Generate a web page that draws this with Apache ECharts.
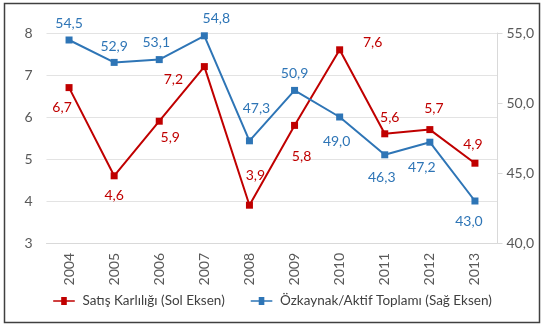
<!DOCTYPE html>
<html>
<head>
<meta charset="utf-8">
<script src="https://cdn.jsdelivr.net/npm/echarts@6/dist/echarts.min.js"></script>
<style>
html,body{margin:0;padding:0;background:#fff;}
#c{width:545px;height:327px;}
</style>
</head>
<body>
<div id="c"></div>
<script>
const years = ['2004','2005','2006','2007','2008','2009','2010','2011','2012','2013'];
const satisKarliligi = [6.7, 4.6, 5.9, 7.2, 3.9, 5.8, 7.6, 5.6, 5.7, 4.9];
const ozkaynakAktif = [54.5, 52.9, 53.1, 54.8, 47.3, 50.9, 49.0, 46.3, 47.2, 43.0];
const leftTicks = [3, 4, 5, 6, 7, 8];
const rightTicks = [40, 45, 50, 55];

const redName = 'Satış Karlılığı (Sol Eksen)';
const blueName = 'Özkaynak/Aktif Toplamı (Sağ Eksen)';
const RED = '#C00000', BLUE = '#2E75B6';
const FONT = 'Lato';
const FS = 14;

// label offsets (presentation only)
const redOff = [[-7,20],[0,20],[11,16],[-31,13],[6,-30],[7,31],[33,-7],[5,-16],[4,-21],[-2,-19]];
const blueOff = [[0,-17],[0,-16],[-3,-17],[12,-17],[7,-32],[0,-17],[-3,24],[-3,23],[-8,25],[-6,20]];

const fmt = v => v.toFixed(1).replace('.', ',');

function build(values, offs) {
  return values.map((v, i) => ({
    value: v,
    label: { offset: offs[i] }
  }));
}

const legendIcon = 'path://M0,4 L10,4 L10,0 L17,0 L17,4 L27,4 L27,6 L17,6 L17,10 L10,10 L10,6 L0,6 Z';

const chart = echarts.init(document.getElementById('c'), null, {renderer: 'canvas'});
chart.setOption({
  animation: false,
  backgroundColor: '#fff',
  textStyle: { fontFamily: FONT },
  graphic: [{
    type: 'rect',
    shape: { x: 4.5, y: 3.5, width: 535, height: 319 },
    style: { fill: 'none', stroke: '#404040', lineWidth: 1.5 },
    z: 100
  }],
  grid: { left: 46.5, right: 47.5, top: 33, bottom: 84, containLabel: false },
  legend: {
    bottom: 14,
    left: 'center',
    itemWidth: 27,
    itemHeight: 8,
    itemGap: 26,
    textStyle: { fontFamily: FONT, fontSize: 13.5, color: '#404040' },
    data: [
      { name: redName, icon: legendIcon },
      { name: blueName, icon: legendIcon }
    ]
  },
  xAxis: {
    type: 'category',
    data: years,
    boundaryGap: true,
    axisLine: { show: true, lineStyle: { color: '#D9D9D9', width: 1 } },
    axisTick: { show: false },
    axisLabel: { rotate: 90, margin: 10, fontFamily: FONT, fontSize: FS, color: '#595959' }
  },
  yAxis: [{
    type: 'value',
    min: leftTicks[0], max: leftTicks[leftTicks.length - 1], interval: 1,
    position: 'left',
    axisLine: { show: false },
    axisTick: { show: false },
    splitLine: { show: true, lineStyle: { color: '#E3E3E3', width: 1 } },
    axisLabel: { margin: 14, fontFamily: FONT, fontSize: FS, color: '#595959' }
  }, {
    type: 'value',
    min: rightTicks[0], max: rightTicks[rightTicks.length - 1], interval: 5,
    position: 'right',
    axisLine: { show: true, lineStyle: { color: '#D9D9D9', width: 1 } },
    axisTick: { show: true, length: 5, lineStyle: { color: '#D9D9D9' } },
    splitLine: { show: false },
    axisLabel: { margin: 9, fontFamily: FONT, fontSize: FS, color: '#595959', formatter: v => fmt(v) }
  }],
  series: [{
    name: redName,
    type: 'line',
    yAxisIndex: 0,
    data: build(satisKarliligi, redOff),
    symbol: 'rect',
    symbolSize: 7,
    lineStyle: { color: RED, width: 2 },
    itemStyle: { color: RED },
    label: {
      show: true, position: 'inside', align: 'center', verticalAlign: 'middle',
      color: RED, fontFamily: FONT, fontSize: FS,
      formatter: p => fmt(p.value)
    }
  }, {
    name: blueName,
    type: 'line',
    yAxisIndex: 1,
    data: build(ozkaynakAktif, blueOff),
    symbol: 'rect',
    symbolSize: 7,
    lineStyle: { color: BLUE, width: 2 },
    itemStyle: { color: BLUE },
    label: {
      show: true, position: 'inside', align: 'center', verticalAlign: 'middle',
      color: BLUE, fontFamily: FONT, fontSize: FS,
      formatter: p => fmt(p.value)
    }
  }]
});
</script>
</body>
</html>
